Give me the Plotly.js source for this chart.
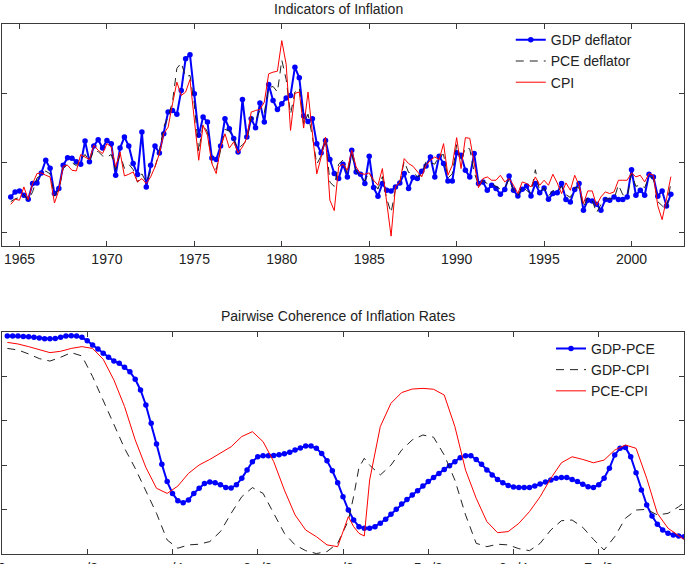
<!DOCTYPE html>
<html>
<head>
<meta charset="utf-8">
<script src="https://cdn.plot.ly/plotly-3.0.1.min.js"></script>
<style>
  html, body { margin: 0; padding: 0; background: #ffffff; }
  #chart { width: 696px; height: 564px; }
</style>
</head>
<body>
<div id="chart"></div>
<script>
// Quarterly inflation rates (annualised, percent), 1964Q3 - 2002Q2
const firstQuarter = 1964.5;

const gdpDeflator = [
  2.54, 2.90,
  2.97, 2.66, 2.37, 3.50,
  3.55, 4.27, 5.18, 4.60,
  2.78, 3.14, 4.82, 5.37,
  5.32, 5.08, 4.89, 6.57,
  5.08, 6.21, 6.66, 6.06,
  6.61, 6.37, 4.10, 6.06,
  6.85, 6.21, 4.94, 4.15,
  7.21, 3.26, 4.82, 6.21,
  5.70, 7.09, 8.65, 8.77,
  8.49, 10.20, 12.50, 12.78,
  9.97, 6.98, 8.29, 7.93,
  5.35, 5.23, 6.21, 8.17,
  7.45, 6.74, 5.78, 9.56,
  6.86, 8.17, 7.53, 9.30,
  7.93, 10.64, 9.49, 8.84,
  9.25, 9.66, 9.85, 11.89,
  11.12, 8.37, 7.98, 8.17,
  6.37, 5.70, 6.61, 5.23,
  4.22, 3.86, 4.90, 3.98,
  5.90, 4.34, 4.17, 3.50,
  5.47, 3.21, 2.59, 3.50,
  3.02, 2.97, 3.26, 3.55,
  4.22, 3.14, 3.93, 3.86,
  4.39, 4.77, 5.42, 3.98,
  5.47, 4.94, 3.69, 3.69,
  5.73, 5.54, 4.46, 3.98,
  5.66, 3.50, 3.62, 3.02,
  3.38, 3.14, 2.73, 3.07,
  4.05, 3.02, 2.61, 3.09,
  3.33, 2.61, 3.50, 2.83,
  3.19, 2.37, 2.78, 2.83,
  3.50, 2.35, 2.18, 3.07,
  3.50, 1.58, 2.30, 2.25,
  2.01, 1.58, 2.35, 2.30,
  2.54, 2.35, 2.35, 2.54,
  4.50, 2.66, 3.02, 2.66,
  4.17, 3.98, 2.59, 2.97,
  1.89, 2.73
];

const pceDeflator = [
  2.20, 2.40,
  2.50, 2.70, 2.30, 2.90,
  3.90, 4.10, 4.40, 4.20,
  2.60, 3.10, 4.60, 4.90,
  5.00, 4.80, 5.20, 5.60,
  5.10, 5.90, 5.80, 5.50,
  5.40, 5.60, 4.50, 5.60,
  4.60, 4.90, 4.50, 3.60,
  4.20, 3.60, 4.40, 4.70,
  5.80, 7.60, 8.30, 9.40,
  11.80, 12.20, 11.20, 11.30,
  9.20, 5.80, 7.80, 7.20,
  5.00, 4.50, 5.90, 7.40,
  7.30, 6.60, 6.00, 6.30,
  6.60, 8.30, 8.00, 8.80,
  8.60, 10.40, 10.50, 10.10,
  12.40, 11.00, 8.50, 10.10,
  10.40, 7.80, 8.50, 6.90,
  4.90, 5.50, 6.80, 3.60,
  3.30, 4.90, 5.20, 4.20,
  5.60, 4.40, 4.00, 3.70,
  4.30, 3.60, 3.10, 4.00,
  2.40, 1.40, 3.10, 3.60,
  5.10, 4.30, 4.30, 4.00,
  4.10, 5.10, 5.00, 4.90,
  5.50, 5.60, 3.90, 4.20,
  6.30, 5.10, 6.10, 6.00,
  4.30, 3.40, 3.70, 3.50,
  3.50, 3.30, 3.10, 3.20,
  3.80, 3.00, 2.60, 3.30,
  3.00, 2.80, 4.50, 2.90,
  3.20, 2.60, 3.00, 2.90,
  3.30, 2.70, 2.50, 3.20,
  3.20, 1.80, 2.50, 2.30,
  1.40, 2.00, 2.40, 2.40,
  2.40, 3.40, 2.70, 2.60,
  4.20, 3.30, 3.40, 3.20,
  4.00, 3.90, 2.20, 1.90,
  1.60, 3.60
];

const cpiInflation = [
  2.00, 2.37,
  2.30, 3.26, 2.35, 3.50,
  4.22, 4.27, 4.10, 3.98,
  2.10, 3.02, 4.75, 4.82,
  4.46, 4.41, 5.59, 5.42,
  5.23, 6.26, 5.90, 5.66,
  6.38, 6.14, 4.70, 5.78,
  4.05, 4.17, 4.34, 3.62,
  3.86, 3.50, 3.98, 4.70,
  5.66, 7.09, 7.57, 9.25,
  10.81, 9.85, 10.09, 11.00,
  8.29, 5.18, 7.69, 6.98,
  4.94, 4.22, 6.14, 7.09,
  6.06, 6.50, 5.70, 6.14,
  6.78, 8.65, 8.77, 8.84,
  9.37, 11.41, 11.53, 11.60,
  13.80, 12.10, 7.33, 10.00,
  10.10, 7.50, 10.10, 7.10,
  4.20, 5.40, 6.85, 2.30,
  1.55, 4.70, 4.90, 4.46,
  5.90, 4.70, 4.22, 4.17,
  4.27, 3.74, 3.38, 4.58,
  2.30, -0.29, 3.26, 3.62,
  5.30, 4.94, 4.75, 4.34,
  3.98, 4.82, 5.18, 5.42,
  5.23, 6.38, 4.10, 4.82,
  6.81, 4.58, 6.81, 6.76,
  4.82, 3.21, 3.86, 3.98,
  3.74, 3.74, 4.10, 3.62,
  3.86, 3.38, 2.78, 3.62,
  3.50, 3.26, 3.98, 3.38,
  3.74, 3.38, 4.17, 3.55,
  2.78, 3.55, 3.02, 4.10,
  3.38, 2.06, 2.97, 2.97,
  1.94, 2.54, 2.90, 2.78,
  2.90, 3.74, 3.74, 3.74,
  4.27, 3.98, 4.10, 3.62,
  4.22, 4.10, 1.90, 0.90,
  2.40, 4.00
];

const yearTicks = [1965, 1970, 1975, 1980, 1985, 1990, 1995, 2000];

// Coherence spectra; frequency grid is k*pi/128
const cohGdpPce = [
  0.982, 0.982, 0.982, 0.980, 0.979, 0.976, 0.973, 0.970,
  0.970, 0.971, 0.976, 0.982, 0.983, 0.982, 0.976, 0.961,
  0.941, 0.923, 0.904, 0.886, 0.869, 0.859, 0.841, 0.821,
  0.787, 0.739, 0.671, 0.589, 0.495, 0.404, 0.326, 0.273,
  0.240, 0.231, 0.243, 0.273, 0.296, 0.318, 0.324, 0.321,
  0.312, 0.300, 0.297, 0.312, 0.341, 0.378, 0.416, 0.438,
  0.443, 0.443, 0.444, 0.447, 0.452, 0.458, 0.468, 0.477,
  0.486, 0.486, 0.476, 0.453, 0.420, 0.375, 0.321, 0.258,
  0.198, 0.153, 0.123, 0.116, 0.116, 0.123, 0.138, 0.156,
  0.179, 0.201, 0.225, 0.246, 0.266, 0.285, 0.306, 0.326,
  0.345, 0.363, 0.381, 0.398, 0.416, 0.434, 0.443, 0.443,
  0.426, 0.404, 0.378, 0.356, 0.336, 0.321, 0.309, 0.302,
  0.299, 0.299, 0.300, 0.306, 0.315, 0.324, 0.333, 0.341,
  0.345, 0.344, 0.336, 0.326, 0.314, 0.303, 0.300, 0.312,
  0.341, 0.386, 0.446, 0.476, 0.480, 0.438, 0.366, 0.288,
  0.221, 0.171, 0.134, 0.108, 0.093, 0.086, 0.081, 0.078
];

// Frequency indices (k in k*pi/128) at which the two other spectra are listed
const lineFreqIdx = [
  1, 3, 5, 7, 9, 11, 13, 15, 17, 19, 21, 23, 25, 27, 29, 31,
  33, 35, 37, 39, 41, 43, 45, 47, 49, 51, 53, 55, 57, 59, 61, 63,
  65, 66, 67, 68, 69, 71, 73, 75, 77, 79, 81, 83, 85, 87, 89, 91,
  93, 95, 97, 99, 101, 103, 105, 107, 109, 111, 113, 115, 117, 119, 121, 123,
  125, 127, 128
];

const cohGdpCpi = [
  0.926, 0.919, 0.901, 0.880, 0.869, 0.886, 0.907, 0.892, 0.799, 0.694, 0.589, 0.476, 0.386, 0.281, 0.183, 0.063,
  0.026, 0.041, 0.044, 0.056, 0.101, 0.183, 0.258, 0.299, 0.273, 0.183, 0.093, 0.041, 0.015, 0.002, 0.011, 0.048,
  0.150, 0.260, 0.390, 0.431, 0.400, 0.356, 0.400, 0.468, 0.514, 0.536, 0.526, 0.446, 0.333, 0.176, 0.048, 0.033,
  0.044, 0.041, 0.024, 0.015, 0.048, 0.108, 0.150, 0.153, 0.120, 0.066, 0.018, 0.078, 0.161, 0.198, 0.201, 0.176,
  0.183, 0.213, 0.231
];

const cohPceCpi = [
  0.953, 0.946, 0.934, 0.919, 0.907, 0.913, 0.926, 0.934, 0.926, 0.877, 0.784, 0.664, 0.514, 0.390, 0.296, 0.273,
  0.306, 0.363, 0.401, 0.426, 0.453, 0.483, 0.529, 0.551, 0.506, 0.416, 0.288, 0.176, 0.108, 0.078, 0.041, 0.033,
  0.168, 0.123, 0.093, 0.081, 0.333, 0.574, 0.679, 0.727, 0.743, 0.746, 0.742, 0.716, 0.574, 0.378, 0.251, 0.146,
  0.096, 0.101, 0.138, 0.191, 0.258, 0.341, 0.411, 0.438, 0.426, 0.411, 0.423, 0.468, 0.491, 0.476, 0.341, 0.183,
  0.116, 0.081, 0.066
];

const freqTickLabels = ['0', 'π/8', 'π/4', '3π/8', 'π/2', '5π/8', '3π/4', '7π/8', 'π'];

// ---- derived x grids ----
const quarters = gdpDeflator.map((_, i) => firstQuarter + 0.25 * i);
const freqAll = cohGdpPce.map((_, i) => (i + 1) * Math.PI / 128);
const freqLine = lineFreqIdx.map(k => k * Math.PI / 128);
const freqTickVals = freqTickLabels.map((_, i) => i * Math.PI / 8);

const FONT = 'Liberation Sans, Arial, Helvetica, sans-serif';
const BLUE = '#0000ff';
const DASH = '#222222';
const RED = '#ff0000';

const traces = [
  { x: quarters, y: gdpDeflator, name: 'GDP deflator', type: 'scatter', mode: 'lines+markers',
    line: { color: BLUE, width: 2 }, marker: { color: BLUE, size: 5.5 },
    xaxis: 'x', yaxis: 'y', legend: 'legend' },
  { x: quarters, y: pceDeflator, name: 'PCE deflator', type: 'scatter', mode: 'lines',
    line: { color: DASH, width: 1, dash: '8px,6px' },
    xaxis: 'x', yaxis: 'y', legend: 'legend' },
  { x: quarters, y: cpiInflation, name: 'CPI', type: 'scatter', mode: 'lines',
    line: { color: RED, width: 1 },
    xaxis: 'x', yaxis: 'y', legend: 'legend' },

  { x: freqAll, y: cohGdpPce, name: 'GDP-PCE', type: 'scatter', mode: 'lines+markers',
    line: { color: BLUE, width: 2 }, marker: { color: BLUE, size: 5.5 },
    xaxis: 'x2', yaxis: 'y2', legend: 'legend2' },
  { x: freqLine, y: cohGdpCpi, name: 'GDP-CPI', type: 'scatter', mode: 'lines',
    line: { color: DASH, width: 1, dash: '8px,6px' },
    xaxis: 'x2', yaxis: 'y2', legend: 'legend2' },
  { x: freqLine, y: cohPceCpi, name: 'PCE-CPI', type: 'scatter', mode: 'lines',
    line: { color: RED, width: 1 },
    xaxis: 'x2', yaxis: 'y2', legend: 'legend2' }
];

const frameAxis = {
  showline: true, linecolor: '#3a3a3a', linewidth: 1, mirror: 'ticks',
  ticks: 'inside', ticklen: 5, tickcolor: '#3a3a3a', tickwidth: 1,
  showgrid: false, zeroline: false,
  tickfont: { family: FONT, size: 14, color: '#222222' }
};

const legendBase = {
  xanchor: 'left', yanchor: 'top', bgcolor: 'rgba(0,0,0,0)', borderwidth: 0,
  font: { family: FONT, size: 14, color: '#222222' }, tracegroupgap: 0
};

const layout = {
  width: 696, height: 564,
  margin: { l: 2, r: 12, t: 24, b: 10, pad: 0 },
  paper_bgcolor: '#ffffff', plot_bgcolor: '#ffffff',
  showlegend: true,
  font: { family: FONT, size: 14, color: '#222222' },
  xaxis: Object.assign({}, frameAxis, {
    anchor: 'y', domain: [0, 1], range: [1964, 2003],
    tickvals: yearTicks, ticktext: yearTicks.map(String)
  }),
  yaxis: Object.assign({}, frameAxis, {
    anchor: 'x', domain: [0.5811, 1], range: [-1, 15],
    tickvals: [0, 5, 10], showticklabels: false
  }),
  xaxis2: Object.assign({}, frameAxis, {
    anchor: 'y2', domain: [0, 1], range: [0, Math.PI],
    tickvals: freqTickVals, ticktext: freqTickLabels,
    ticklabeloverflow: 'allow', ticklabelstandoff: 1
  }),
  yaxis2: Object.assign({}, frameAxis, {
    anchor: 'x2', domain: [0, 0.4189], range: [0, 1],
    tickvals: [0.2, 0.4, 0.6, 0.8], showticklabels: false
  }),
  legend: Object.assign({}, legendBase, { x: 0.746, y: 0.9996 }),
  legend2: Object.assign({}, legendBase, { x: 0.805, y: 0.4173 }),
  annotations: [
    { text: 'Indicators of Inflation', xref: 'paper', yref: 'paper',
      x: 0.4927, y: 1.0283, xanchor: 'center', yanchor: 'middle', showarrow: false,
      font: { family: FONT, size: 14, color: '#222222' } },
    { text: 'Pairwise Coherence of Inflation Rates', xref: 'paper', yref: 'paper',
      x: 0.4927, y: 0.449, xanchor: 'center', yanchor: 'middle', showarrow: false,
      font: { family: FONT, size: 14, color: '#222222' } }
  ]
};

Plotly.newPlot('chart', traces, layout, { staticPlot: true, displayModeBar: false });
</script>
</body>
</html>
